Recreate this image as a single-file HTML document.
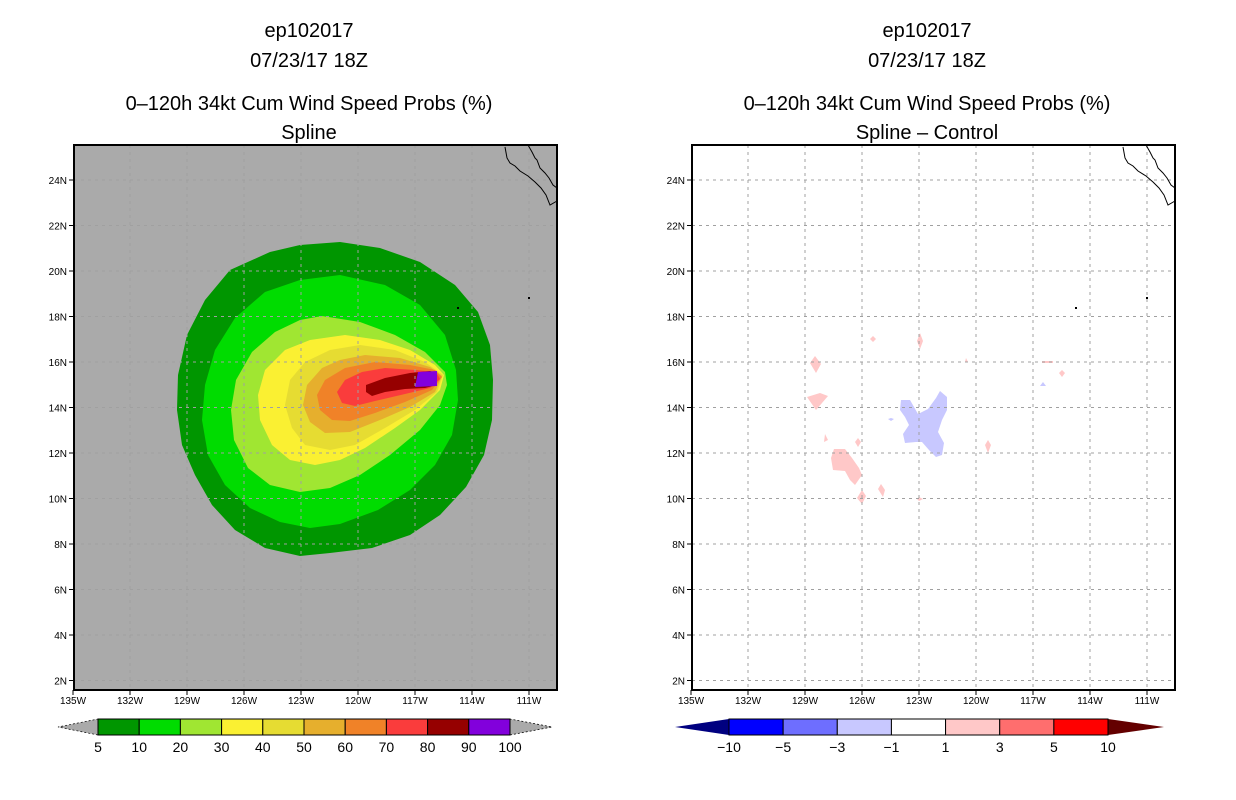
<!DOCTYPE html>
<html><head><meta charset="utf-8"><style>
html,body{margin:0;padding:0;background:#fff;}
svg{display:block;font-family:"Liberation Sans",sans-serif;}
</style></head><body>
<svg id="s" width="1236" height="800" viewBox="0 0 1236 800" xmlns="http://www.w3.org/2000/svg"></svg>
<script>
// ---- data ----
const lonTicks=[135,132,129,126,123,120,117,114,111];
const latTicks=[24,22,20,18,16,14,12,10,8,6,4,2];
const leftLevels=["5","10","20","30","40","50","60","70","80","90","100"];
const leftColors=["#009600","#00dc00","#a0e632","#faf032","#e6dc32","#e6af2d","#f08228","#fa3c3c","#960000","#8200dc"];
const rightLevels=["-10","-5","-3","-1","1","3","5","10"];
const rightColors=["#0000ff","#6e6eff","#c8c8ff","#ffffff","#ffc8c8","#ff6e6e","#ff0000"];
const contours=[
 [[340,242],[380,248],[420,262],[455,285],[478,312],[490,345],[493,380],[492,420],[484,455],[466,487],[440,515],[410,535],[372,548],[330,553],[300,556],[265,548],[235,530],[212,505],[195,475],[182,445],[177,410],[178,375],[187,335],[205,300],[230,270],[270,252],[300,245]],
 [[340,275],[385,285],[420,305],[445,335],[456,370],[458,400],[452,435],[435,465],[410,490],[378,510],[340,524],[310,528],[280,522],[250,508],[225,485],[208,455],[202,420],[205,385],[215,350],[235,318],[265,292],[300,280]],
 [[322,316],[360,322],[395,335],[425,352],[445,372],[447,385],[440,405],[420,430],[390,455],[360,475],[330,488],[300,492],[270,485],[248,468],[234,440],[231,410],[236,380],[252,352],[275,332],[300,320]],
 [[345,335],[380,340],[410,350],[435,365],[444,375],[440,390],[420,410],[395,428],[365,448],[340,460],[315,465],[290,460],[272,445],[260,420],[258,395],[265,370],[285,350],[310,340]],
 [[360,345],[395,350],[425,362],[443,375],[437,392],[415,410],[385,428],[355,445],[330,450],[305,445],[292,428],[285,405],[290,380],[305,362],[330,350]],
 [[365,355],[400,358],[430,367],[442,376],[435,392],[410,407],[380,420],[350,432],[325,433],[310,422],[303,405],[307,385],[322,368],[340,360]],
 [[375,362],[410,365],[435,370],[442,377],[432,390],[405,402],[375,413],[350,421],[332,420],[320,410],[317,395],[325,380],[345,368]],
 [[385,368],[415,370],[436,372],[440,379],[430,388],[405,394],[375,401],[355,406],[342,403],[337,392],[345,380],[362,372]],
 [[366,385],[385,378],[410,373],[430,371],[437,373],[437,385],[425,388],[405,389],[385,392],[372,396],[366,392]],
 [[418,372],[437,371],[437,386],[415,387]]
];
const diffPink=[
 [[834,449],[845,449],[852,458],[859,468],[862,475],[855,485],[850,480],[845,471],[833,470],[831,458]],
 [[807,397],[820,393],[828,396],[816,410]],
 [[815,356],[821,364],[816,373],[810,363]],
 [[873,336],[876,339],[873,342],[870,339]],
 [[920,333],[923,341],[920,349],[917,341]],
 [[858,438],[861,442],[858,447],[855,442]],
 [[988,440],[991,445],[988,453],[985,445]],
 [[862,490],[866,496],[862,504],[857,498]],
 [[881,484],[885,490],[883,497],[878,489]],
 [[919,497],[923,499],[919,501],[917,499]],
 [[825,434],[828,440],[824,442]],
 [[966,358],[968,362],[965,362]],
 [[1042,361],[1053,361],[1053,363],[1042,363]],
 [[1062,370],[1065,373],[1062,377],[1059,373]]
];
const diffBlue=[
 [[901,400],[910,400],[918,414],[928,409],[936,398],[940,391],[947,397],[947,410],[942,420],[938,432],[944,443],[942,455],[936,457],[929,450],[922,442],[916,442],[905,443],[903,434],[909,425],[905,417],[900,410]],
 [[1043,382],[1046,386],[1040,386]],
 [[891,418],[894,419],[891,421],[888,419]]
];
const coastA=[[505,147],[507,158],[510,163],[515,166],[520,171],[528,176],[535,182],[541,188],[546,195],[550,205],[557,201]];
const coastB=[[528,145],[532,152],[535,158],[537,160],[540,168],[545,173],[549,178],[553,185],[557,188]];

const NS="http://www.w3.org/2000/svg";
const svg=document.getElementById('s');
function mk(tag,attrs,parent){const e=document.createElementNS(NS,tag);for(const k in attrs)e.setAttribute(k,attrs[k]);(parent||svg).appendChild(e);return e;}
const xL=lon=>73+(135-lon)*19.0;
const yL=lat=>271+(20-lat)*22.75;
const FX0=74,FX1=557,FY0=145,FY1=690;
function pts(a,dx){return a.map(p=>(p[0]+dx)+','+p[1]).join(' ');}

function panel(dx,bg,name,titles){
  const g=mk('g',{});
  
  
  const ys=[37,67,110,139];
  titles.forEach((t,i)=>{const tx=mk('text',{x:309+dx,y:ys[i],'text-anchor':'middle','font-size':'20',fill:'#000'},g);tx.textContent=t;
    
    });
  const r=mk('rect',{x:FX0+dx,y:FY0,width:FX1-FX0,height:FY1-FY0,fill:bg},g);
  
  
  return g;
}
function grid(g,dx){
  lonTicks.forEach(l=>{const x=xL(l)+dx;
    if(x>FX0+dx+2&&x<FX1+dx-2){const ln=mk('line',{x1:x,x2:x,y1:FY0,y2:FY1,stroke:'#a0a0a0','stroke-dasharray':'3,4','stroke-width':1},g);
    
    }});
  latTicks.forEach(l=>{const y=yL(l);
    const ln=mk('line',{x1:FX0+dx,x2:FX1+dx,y1:y,y2:y,stroke:'#a0a0a0','stroke-dasharray':'3,4','stroke-width':1},g);
    
    });
}
function frame(g,dx){
  const c1=mk('polyline',{points:pts(coastA,dx),fill:'none',stroke:'#000','stroke-width':1},g);
  
  
  const c2=mk('polyline',{points:pts(coastB,dx),fill:'none',stroke:'#000','stroke-width':1},g);
  
  
  mk('rect',{x:528+dx,y:297,width:2,height:2,fill:'#000'},g);
  const f=mk('rect',{x:FX0+dx,y:FY0,width:FX1-FX0,height:FY1-FY0,fill:'none',stroke:'#000','stroke-width':2},g);
  
  
  lonTicks.forEach(l=>{const x=xL(l)+dx;
    mk('line',{x1:x,x2:x,y1:FY1,y2:FY1+5,stroke:'#000'},g);
    const t=mk('text',{x:x,y:FY1+14,'text-anchor':'middle','font-size':'10'},g);t.textContent=l+'W';
    
    });
  latTicks.forEach(l=>{const y=yL(l);
    mk('line',{x1:FX0+dx-5,x2:FX0+dx,y1:y,y2:y,stroke:'#000'},g);
    const t=mk('text',{x:FX0+dx-7,y:y+4,'text-anchor':'end','font-size':'10'},g);t.textContent=l+'N';
    
    });
}

const gl=panel(0,'#aaaaaa','left-panel-spline',['ep102017','07/23/17 18Z','0\u2013120h 34kt Cum Wind Speed Probs (%)','Spline']);
contours.forEach((c,i)=>{const p=mk('polygon',{points:pts(c,0),fill:leftColors[i]},gl);
  
  });
grid(gl,0);
mk('rect',{x:457,y:307,width:2,height:2,fill:'#000'},gl);
frame(gl,0);
(function(){
  const x0=98,x1=510,y0=719,y1=735,n=leftColors.length,w=(x1-x0)/n;
  const g=mk('g',{});
  
  
  mk('polygon',{points:`${x0},${y0} ${x0},${y1} 58,${(y0+y1)/2}`,fill:'#aaaaaa',stroke:'#000','stroke-dasharray':'2,2','stroke-width':0.7},g);
  mk('polygon',{points:`${x1},${y0} ${x1},${y1} 552,${(y0+y1)/2}`,fill:'#aaaaaa',stroke:'#000','stroke-dasharray':'2,2','stroke-width':0.7},g);
  leftColors.forEach((c,i)=>{const r=mk('rect',{x:x0+i*w,y:y0,width:w,height:y1-y0,fill:c,stroke:'#000','stroke-width':1},g);
    
    });
  leftLevels.forEach((l,i)=>{const t=mk('text',{x:x0+i*w,y:752,'text-anchor':'middle','font-size':'14'},g);t.textContent=l;
    
    });
})();

const DX=618;
const gr=panel(DX,'#ffffff','right-panel-difference',['ep102017','07/23/17 18Z','0\u2013120h 34kt Cum Wind Speed Probs (%)','Spline \u2013 Control']);
diffPink.forEach(c=>{const p=mk('polygon',{points:pts(c,0),fill:'#ffc8c8'},gr);
  
  });
diffBlue.forEach(c=>{const p=mk('polygon',{points:pts(c,0),fill:'#c8c8ff'},gr);
  
  });
grid(gr,DX);
mk('rect',{x:457+DX,y:307,width:2,height:2,fill:'#000'},gr);
frame(gr,DX);
(function(){
  const x0=729,x1=1108,y0=719,y1=735,n=rightColors.length,w=(x1-x0)/n;
  const g=mk('g',{});
  
  
  mk('polygon',{points:`${x0},${y0} ${x0},${y1} 675,${(y0+y1)/2}`,fill:'#000080'},g);
  mk('polygon',{points:`${x1},${y0} ${x1},${y1} 1164,${(y0+y1)/2}`,fill:'#640000'},g);
  rightColors.forEach((c,i)=>{const r=mk('rect',{x:x0+i*w,y:y0,width:w,height:y1-y0,fill:c,stroke:'#000','stroke-width':1},g);
    
    });
  rightLevels.forEach((l,i)=>{const t=mk('text',{x:x0+i*w,y:752,'text-anchor':'middle','font-size':'14'},g);t.textContent=l.replace('-','\u2212');
    
    });
})();
</script>
</body></html>
